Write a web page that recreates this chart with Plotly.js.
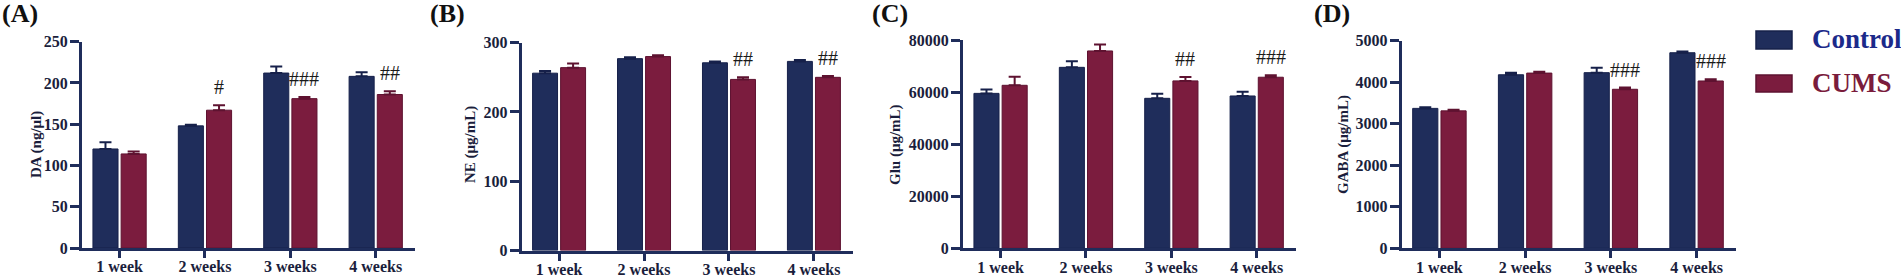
<!DOCTYPE html>
<html>
<head>
<meta charset="utf-8">
<script src="https://cdn.plot.ly/plotly-3.0.1.min.js"></script>
<style>
  html, body { margin: 0; padding: 0; background: #fff; }
  #chart { width: 1901px; height: 277px; }
</style>
</head>
<body>
<div id="chart"></div>
<script>
// ---------- DATA ----------
const categories = ['1 week', '2 weeks', '3 weeks', '4 weeks'];
const groupNames = ['Control', 'CUMS'];

const daControl = [120, 148, 212, 208];
const daControlErr = [8, 1.5, 8, 5];
const daCums = [114, 167, 181, 186];
const daCumsErr = [3, 6, 2, 4];
const daSig = ['', '#', '###', '##'];

const neControl = [256, 277, 271, 273];
const neControlErr = [3, 2, 2, 2];
const neCums = [264, 280, 247, 250];
const neCumsErr = [6, 2, 3, 2];
const neSig = ['', '', '##', '##'];

const gluControl = [59500, 69500, 57600, 58500];
const gluControlErr = [1500, 2300, 1800, 1600];
const gluCums = [62600, 75800, 64300, 65700];
const gluCumsErr = [3300, 2500, 1500, 800];
const gluSig = ['', '', '##', '###'];

const gabaControl = [3370, 4180, 4230, 4710];
const gabaControlErr = [30, 50, 120, 30];
const gabaCums = [3310, 4220, 3830, 4030];
const gabaCumsErr = [25, 30, 40, 40];
const gabaSig = ['', '', '###', '###'];

const panelLetters = ['(A)', '(B)', '(C)', '(D)'];
const yTitles = ['DA (ng/μl)', 'NE (μg/mL)', 'Glu (μg/mL)', 'GABA (μg/mL)'];
const yMax = [250, 300, 80000, 5000];
const yStep = [50, 100, 20000, 1000];

// ---------- STYLE / LAYOUT ----------
const W = 1901, H = 277;
const px = v => v / W;
const py = v => (H - v) / H;

const navy = '#1f2d5b', navyLine = '#16204a';
const wine = '#7b1c3e', wineLine = '#5e1230';
const textCol = '#1b1e3c';
const serif = 'Liberation Serif, Times New Roman, serif';

// pixel frames of each panel: [left, right, top(yMax), bottom(0)]
const frames = [
  [82, 415, 41.7, 248],
  [521.7, 853, 42.7, 250.5],
  [963, 1296, 40, 248.3],
  [1401.7, 1736, 40.7, 248.3]
];
const titleX = [36, 470, 895, 1343];
const letterX = [0, 428, 870, 1312];

const panels = [
  [daControl, daControlErr, daCums, daCumsErr, daSig],
  [neControl, neControlErr, neCums, neCumsErr, neSig],
  [gluControl, gluControlErr, gluCums, gluCumsErr, gluSig],
  [gabaControl, gabaControlErr, gabaCums, gabaCumsErr, gabaSig]
];

const traces = [];
const annotations = [];
const shapes = [];
const layout = {
  width: W, height: H,
  margin: {l: 0, r: 0, t: 0, b: 0},
  paper_bgcolor: '#fff', plot_bgcolor: '#fff',
  barmode: 'group', bargap: 0.34, bargroupgap: 0.11,
  showlegend: false,
  font: {family: serif, color: textCol}
};

panels.forEach((p, i) => {
  const n = i === 0 ? '' : String(i + 1);
  const xa = 'x' + n, ya = 'y' + n;
  const [cv, ce, mv, me, sig] = p;
  const f = frames[i];
  traces.push({
    type: 'bar', x: categories, y: cv, name: groupNames[0], xaxis: xa, yaxis: ya,
    marker: {color: navy, line: {color: navyLine, width: 1}},
    error_y: {type: 'data', symmetric: false, array: ce, arrayminus: ce.map(() => 0),
              color: navyLine, thickness: 2, width: 6}
  });
  traces.push({
    type: 'bar', x: categories, y: mv, name: groupNames[1], xaxis: xa, yaxis: ya,
    marker: {color: wine, line: {color: wineLine, width: 1}},
    error_y: {type: 'data', symmetric: false, array: me, arrayminus: me.map(() => 0),
              color: wineLine, thickness: 2, width: 6}
  });
  layout['xaxis' + n] = {
    domain: [px(f[0]), px(f[1])], anchor: ya, type: 'category',
    range: [-0.44, 3.46], fixedrange: true,
    showline: true, linewidth: 3, linecolor: navy, showgrid: false, zeroline: false,
    ticks: 'outside', ticklen: 7, tickwidth: 3, tickcolor: navy,
    ticklabelstandoff: -5,
    tickfont: {family: serif, size: 16, weight: 700, color: textCol}
  };
  layout['yaxis' + n] = {
    domain: [py(f[3]), py(f[2])], anchor: xa,
    range: [0, yMax[i]], dtick: yStep[i], tickformat: 'd', fixedrange: true,
    showline: true, linewidth: 3, linecolor: navy, showgrid: false, zeroline: false,
    ticks: 'outside', ticklen: 9, tickwidth: 3, tickcolor: navy,
    ticklabelstandoff: -1,
    tickfont: {family: serif, size: 16, weight: 700, color: textCol}
  };
  // significance marks above CUMS bars
  sig.forEach((s, k) => {
    if (!s) return;
    annotations.push({
      xref: xa, yref: ya, x: k + 0.165, y: mv[k] + me[k],
      text: s, showarrow: false, xanchor: 'center', yanchor: 'bottom', yshift: 5,
      font: {family: serif, size: 20, color: '#1a1a1a'}
    });
  });
  // y-axis title
  annotations.push({
    xref: 'paper', yref: 'paper', x: px(titleX[i]), y: py(145),
    text: yTitles[i], textangle: -90, showarrow: false,
    xanchor: 'center', yanchor: 'middle',
    font: {family: serif, size: 15, weight: 700, color: textCol}
  });
  // panel letter
  annotations.push({
    xref: 'paper', yref: 'paper', x: px(letterX[i]), y: py(-3),
    text: panelLetters[i], showarrow: false, xanchor: 'left', yanchor: 'top',
    font: {family: serif, size: 26, weight: 700, color: '#111'}
  });
});

// legend (manual, large swatches)
const legendItems = [
  {name: groupNames[0], fill: navy, line: navyLine, txt: '#1c2a8a', top: 31, bottom: 49},
  {name: groupNames[1], fill: wine, line: wineLine, txt: '#7a1c3c', top: 75, bottom: 92}
];
legendItems.forEach(it => {
  shapes.push({
    type: 'rect', xref: 'paper', yref: 'paper',
    x0: px(1756), x1: px(1792), y0: py(it.bottom), y1: py(it.top),
    fillcolor: it.fill, line: {color: it.line, width: 1.5}
  });
  annotations.push({
    xref: 'paper', yref: 'paper', x: px(1810), y: py((it.top + it.bottom) / 2 - 1),
    text: it.name, showarrow: false, xanchor: 'left', yanchor: 'middle',
    font: {family: serif, size: 27, weight: 700, color: it.txt}
  });
});

layout.annotations = annotations;
layout.shapes = shapes;

Plotly.newPlot('chart', traces, layout, {staticPlot: true, displayModeBar: false});
</script>
</body>
</html>
